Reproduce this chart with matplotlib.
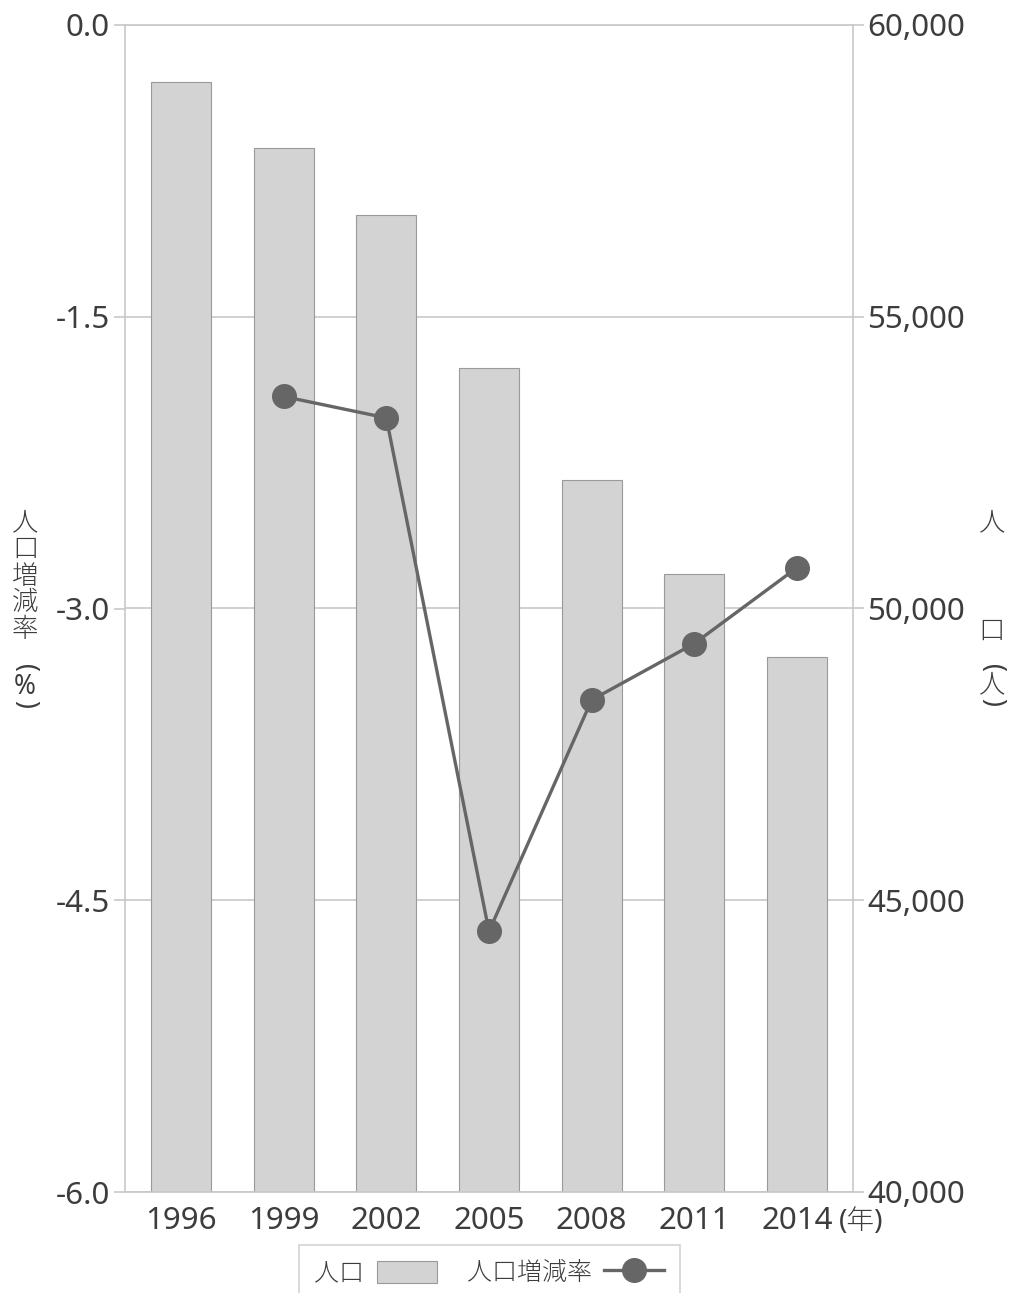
import numpy as np
import matplotlib.pyplot as plt
from matplotlib.patches import Patch
from matplotlib.lines import Line2D

plt.rcParams['font.family'] = ['Noto Sans', 'Noto Sans CJK JP', 'DejaVu Sans']
plt.rcParams['font.weight'] = 'light'

years = ['1996', '1999', '2002', '2005', '2008', '2011', '2014']
population = [59020, 57890, 56740, 54120, 52200, 50590, 49170]
rate = [np.nan, -1.91, -2.02, -4.66, -3.47, -3.18, -2.79]
rate_ticks = [-6.0, -4.5, -3.0, -1.5, 0.0]
pop_ticks = [40000, 45000, 50000, 55000, 60000]

grid_c = '#c8c8c8'
text_c = '#3d3d3d'
W, H = 1009, 1293

fig = plt.figure(figsize=(W / 100, H / 100), dpi=100)
ax = fig.add_axes([125 / W, 1 - 1192 / H, 728 / W, 1167 / H])
ax2 = ax.twinx()
x = np.arange(len(years))

# bars on the main axes (right scale) so the line sits on top
ax.bar(x, population, width=0.584, color='#d3d3d3', edgecolor='#9a9a9a', linewidth=0.8, zorder=2)
ax.set_ylim(40000, 60000)
ax.set_xlim(-0.545, len(years) - 1 + 0.545)
ax.yaxis.tick_right()
ax.set_yticks(pop_ticks)
ax.set_yticklabels([f'{v:,}' for v in pop_ticks])
ax.yaxis.grid(True, color=grid_c, linewidth=1.2, zorder=0)
ax.set_axisbelow(True)
ax.tick_params(axis='y', length=8, width=1.2, color=grid_c, pad=2, labelsize=22.5, labelcolor=text_c)
ax.set_xticks(x)
ax.set_xticklabels(years)
ax.tick_params(axis='x', length=0, pad=10, labelsize=22.5, labelcolor=text_c)
for s in ax.spines.values():
    s.set_color(grid_c)
    s.set_linewidth(1.2)

ax2.plot(x, rate, color='#666666', linewidth=2.4, marker='o', markersize=17, zorder=3)
ax2.set_ylim(-6.0, 0.0)
ax2.yaxis.tick_left()
ax2.set_yticks(rate_ticks)
ax2.set_yticklabels([f'{v:.1f}' for v in rate_ticks])
ax2.tick_params(axis='y', length=8, width=1.2, color=grid_c, pad=3, labelsize=22.5, labelcolor=text_c)
for s in ax2.spines.values():
    s.set_visible(False)

ax.text((839 - 125) / 728, -(1222 - 1192) / 1167, '(年)', transform=ax.transAxes,
        ha='left', va='center', fontsize=20, color=text_c)

# vertical axis titles
def vlabel(chars, xp):
    for ch, yy in chars:
        rot = -90 if ch in '()' else 0
        fig.text(xp / W, 1 - yy / H, ch, ha='center', va='center', fontsize=19,
                 color=text_c, rotation=rot)

vlabel([('人', 523), ('口', 550), ('増', 577), ('減', 603), ('率', 630),
        ('(', 668), ('%', 687), (')', 704)], 25)
vlabel([('人', 523), ('口', 632), ('(', 668), ('人', 685), (')', 702)], 992)

handles = [Patch(facecolor='#d3d3d3', edgecolor='#9a9a9a', linewidth=0.8),
           Line2D([0], [0], color='#666666', linewidth=2.4, marker='o', markersize=17)]
leg = fig.legend(handles, ['人口', '人口増減率'], loc='upper center', ncol=2,
                 bbox_to_anchor=(489 / W, 1 - 1245 / H), markerfirst=False,
                 fontsize=18, frameon=True, fancybox=False, edgecolor=grid_c,
                 handlelength=2.4, handleheight=1.0, columnspacing=1.2,
                 borderpad=0.62, handletextpad=0.5, borderaxespad=0)
leg.get_frame().set_linewidth(1.2)
for t in leg.get_texts():
    t.set_color(text_c)

fig.savefig('out.png', dpi=100)
